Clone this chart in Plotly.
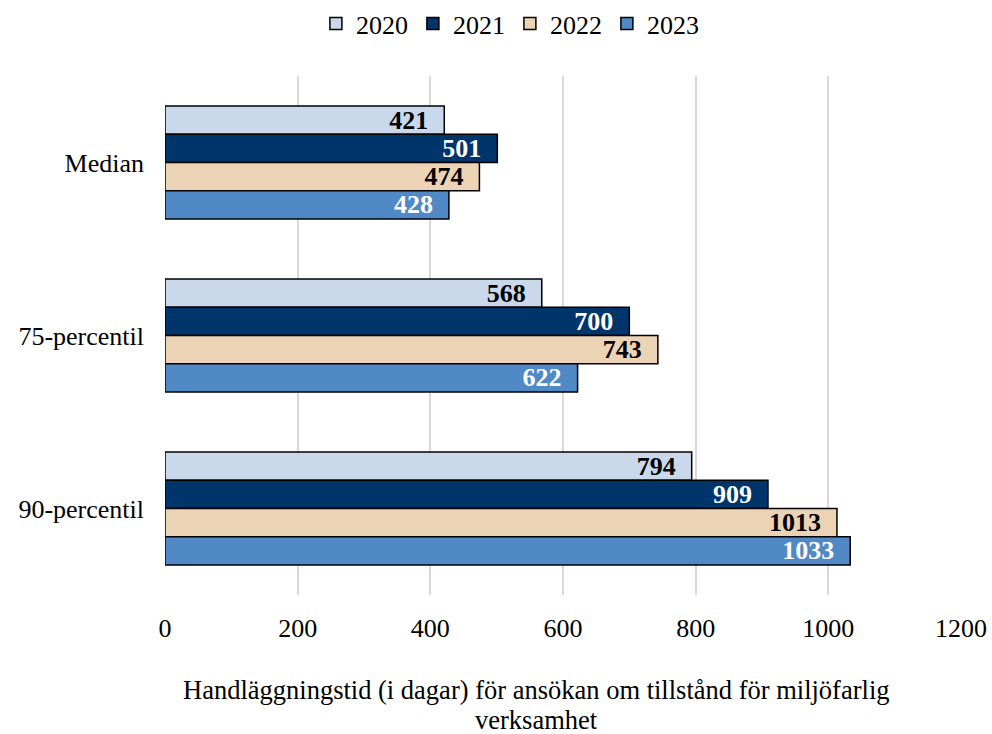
import plotly.graph_objects as go

categories = ["Median", "75-percentil", "90-percentil"]
years = ["2020", "2021", "2022", "2023"]
values = {
    "2020": [421, 568, 794],
    "2021": [501, 700, 909],
    "2022": [474, 743, 1013],
    "2023": [428, 622, 1033],
}
colors = {"2020": "#C9D9EB", "2021": "#00356B", "2022": "#EDD3B5", "2023": "#5089C6"}
text_colors = {"2020": "black", "2021": "white", "2022": "black", "2023": "white"}
x_title_lines = ["Handläggningstid (i dagar) för ansökan om tillstånd för miljöfarlig", "verksamhet"]

FONT = "Liberation Serif"
fig = go.Figure()
for y in years:
    fig.add_trace(go.Bar(
        name=y, y=categories, x=values[y], orientation="h",
        marker=dict(color=colors[y], line=dict(color="black", width=1.5)),
        text=[str(v) + "\u2002" for v in values[y]], textposition="inside", insidetextanchor="end",
        textfont=dict(family=FONT, size=26, color=text_colors[y], weight="bold"),
        textangle=0, constraintext="none",
    ))

fig.update_layout(
    barmode="group", bargap=0.347, bargroupgap=0,
    width=992, height=734,
    margin=dict(l=165, r=31, t=76, b=139, autoexpand=False),
    plot_bgcolor="white", paper_bgcolor="white",
    font=dict(family=FONT, size=26, color="black"),
    legend=dict(orientation="h", x=0.514, xref="container", xanchor="center",
                y=1.0, yref="container", yanchor="top",
                font=dict(family=FONT, size=26), traceorder="normal", itemwidth=30),
    uniformtext=dict(mode=False),
)
fig.add_annotation(text=x_title_lines[0], xref="paper", yref="paper", x=0.467, y=0,
                   yshift=-95, showarrow=False, yanchor="middle", font=dict(family=FONT, size=26.5))
fig.add_annotation(text=x_title_lines[1], xref="paper", yref="paper", x=0.467, y=0,
                   yshift=-125, showarrow=False, yanchor="middle", font=dict(family=FONT, size=26.5))
fig.update_xaxes(
    range=[0, 1200], dtick=200, showgrid=True, gridcolor="#D9D9D9", gridwidth=1.5,
    zeroline=False, showline=False, ticks="", automargin=False,
    tickfont=dict(family=FONT, size=26), ticklabelstandoff=15,
)
fig.update_yaxes(
    autorange="reversed", showgrid=False, ticks="", showline=False, automargin=False,
    tickfont=dict(family=FONT, size=26), ticklabelstandoff=20,
)
fig.write_html("out.html", config={"displayModeBar": False},
               post_script="document.body.style.margin='0';")
